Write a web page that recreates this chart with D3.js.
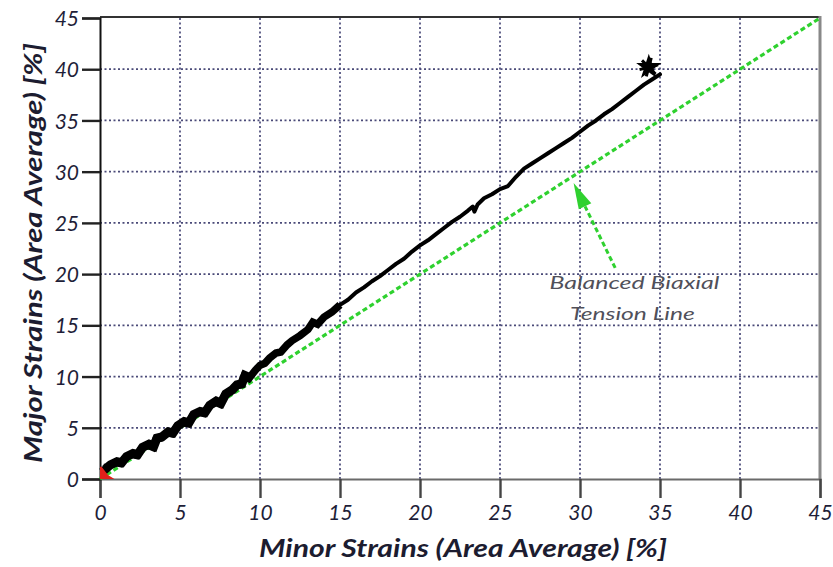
<!DOCTYPE html>
<html>
<head>
<meta charset="utf-8">
<script src="https://cdn.jsdelivr.net/npm/d3@7"></script>
<style>
  html, body { margin: 0; padding: 0; background: #fff; }
  svg { display: block; }
</style>
</head>
<body>
<svg id="chart" width="833" height="567"></svg>
<script>
// ---------- data ----------
const xTicks = [0, 5, 10, 15, 20, 25, 30, 35, 40, 45];
const yTicks = [0, 5, 10, 15, 20, 25, 30, 35, 40, 45];
const xLabel = "Minor Strains (Area Average) [%]";
const yLabel = "Major Strains (Area Average) [%]";

// measured strain path: [minor, major]
const strainPath = [
  [0.1,1.0],[0.3,0.9],[0.6,1.3],[1.0,1.6],[1.3,1.5],[1.6,2.1],[2.0,2.4],[2.3,2.3],
  [2.6,3.0],[3.0,3.3],[3.3,3.1],[3.5,3.9],[3.8,4.0],[4.2,4.5],[4.5,4.4],[4.8,5.1],
  [5.2,5.5],[5.5,5.4],[5.8,6.2],[6.2,6.5],[6.5,6.4],[6.8,7.1],[7.2,7.5],[7.5,7.3],
  [7.8,8.2],[8.2,8.6],[8.5,9.1],[8.8,9.2],[9.0,10.0],[9.3,9.8],[9.7,10.6],[10.0,11.1],
  [10.3,11.3],[10.6,11.8],[11.0,12.3],[11.3,12.4],[11.7,13.1],[12.0,13.5],[12.5,14.0],
  [13.0,14.6],[13.3,15.3],[13.6,15.1],[14.0,15.8],[14.5,16.3],[15.0,17.0],[15.5,17.5],
  [16.0,18.2],[16.5,18.7],[17.0,19.3],[17.5,19.8],[18.0,20.4],[18.5,21.0],[19.0,21.5],
  [19.5,22.2],[20.0,22.8],[20.5,23.3],[21.0,23.9],[21.5,24.5],[22.0,25.1],[22.5,25.6],
  [23.0,26.2],[23.3,26.6],[23.4,26.1],[23.6,26.8],[24.0,27.4],[24.5,27.8],[25.0,28.3],
  [25.5,28.6],[26.0,29.5],[26.5,30.3],[27.0,30.8],[27.5,31.3],[28.0,31.8],[28.5,32.3],
  [29.0,32.8],[29.5,33.3],[30.0,33.9],[30.5,34.5],[31.0,35.0],[31.5,35.6],[32.0,36.1],
  [32.5,36.7],[33.0,37.3],[33.5,37.9],[34.0,38.5],[34.5,39.0],[35.0,39.5]
];
// failure marker
const failurePoint = [34.3, 40.2];
// start region marker (red)
const startMarker = [[0,0],[0.9,0],[0.5,0.4],[0.1,1.2],[0,1.2]];
// balanced biaxial tension line (major = minor)
const biaxialLine = [[0,0],[45,45]];
// annotation
const arrowFrom = [32.2, 20.6];
const arrowTo = [29.6, 28.9];
const annotationLines = ["Balanced Biaxial", "Tension Line"];
const annotationAt = [33.4, 18.5];

// ---------- layout ----------
const svg = d3.select("#chart");
const X0 = 100, X1 = 820, Y0 = 479, Y1 = 18;
const x = d3.scaleLinear().domain([0, 45]).range([X0, X1]);
const y = d3.scaleLinear().domain([0, 45]).range([Y0, Y1]);
const fontFam = "Lato, 'Open Sans', 'DejaVu Sans', sans-serif";

// grid
const grid = svg.append("g");
grid.selectAll("line.gx").data(xTicks.filter(d => d > 0 && d < 45)).enter().append("line")
  .attr("x1", d => x(d)).attr("x2", d => x(d)).attr("y1", Y0).attr("y2", Y1)
  .attr("stroke", "#4a4a78").attr("stroke-width", 1.7).attr("stroke-dasharray", "2,2.5");
grid.selectAll("line.gy").data(yTicks.filter(d => d > 0 && d < 45)).enter().append("line")
  .attr("y1", d => y(d)).attr("y2", d => y(d)).attr("x1", X0).attr("x2", X1)
  .attr("stroke", "#4a4a78").attr("stroke-width", 1.7).attr("stroke-dasharray", "2,2.5");

// frame: top + right
svg.append("line").attr("x1", X0).attr("x2", X1 + 1).attr("y1", Y1 - 1).attr("y2", Y1 - 1)
  .attr("stroke", "#333").attr("stroke-width", 2);
svg.append("line").attr("x1", X1).attr("x2", X1).attr("y1", Y1 - 2).attr("y2", Y0)
  .attr("stroke", "#888").attr("stroke-width", 3);

// axes
const xAxis = d3.axisBottom(x).tickValues(xTicks).tickSize(19).tickPadding(7).tickFormat(d3.format("d"));
const yAxis = d3.axisLeft(y).tickValues(yTicks).tickSize(18).tickPadding(3).tickFormat(d3.format("d"));

const gx = svg.append("g").attr("transform", `translate(0,${Y0})`).call(xAxis);
gx.select(".domain").attr("stroke", "#6a6a6a").attr("stroke-width", 2.2);
gx.selectAll(".tick line").attr("stroke", "#444").attr("stroke-width", 2.4);
gx.selectAll(".tick text").attr("font-family", fontFam).attr("font-style", "italic")
  .attr("font-size", 21).attr("fill", "#1e1e38");

const gy = svg.append("g").attr("transform", `translate(${X0},0)`).call(yAxis);
gy.select(".domain").attr("stroke", "#111").attr("stroke-width", 2);
gy.selectAll(".tick line").attr("stroke", "#222").attr("stroke-width", 2.4);
gy.selectAll(".tick text").attr("font-family", fontFam).attr("font-style", "italic")
  .attr("font-size", 21).attr("fill", "#1e1e38").attr("dy", "0.36em");

// biaxial line
const line = d3.line().x(d => x(d[0])).y(d => y(d[1]));
svg.append("path").datum(biaxialLine).attr("d", line)
  .attr("fill", "none").attr("stroke", "#2fd12f").attr("stroke-width", 3.2)
  .attr("stroke-dasharray", "5,3");

// strain path
svg.append("path").datum(strainPath).attr("d", line)
  .attr("fill", "none").attr("stroke", "#000").attr("stroke-width", 4)
  .attr("stroke-linejoin", "round").attr("stroke-linecap", "round");
// noisy thicker low-strain portion
svg.append("path").datum(strainPath.filter(d => d[0] <= 15)).attr("d", line)
  .attr("fill", "none").attr("stroke", "#000").attr("stroke-width", 7.5)
  .attr("stroke-linejoin", "miter");
svg.append("path").datum(strainPath.filter(d => d[0] <= 9.5)).attr("d", line)
  .attr("fill", "none").attr("stroke", "#000").attr("stroke-width", 9)
  .attr("stroke-linejoin", "miter").attr("transform", "translate(1,-1)");

// red start marker
svg.append("path").datum(startMarker)
  .attr("d", d3.line().x(d => x(d[0])).y(d => y(d[1])).curve(d3.curveLinearClosed))
  .attr("fill", "#e0201a").attr("stroke", "none");

// failure marker
svg.append("path")
  .attr("transform", `translate(${x(failurePoint[0])},${y(failurePoint[1])})`)
  .attr("d", d3.symbol().type(d3.symbolStar).size(200)())
  .attr("fill", "#000");
svg.append("path")
  .attr("transform", `translate(${x(failurePoint[0])},${y(failurePoint[1])}) rotate(15)`)
  .attr("d", d3.symbol().type(d3.symbolAsterisk).size(260)())
  .attr("fill", "none").attr("stroke", "#000").attr("stroke-width", 3);

// arrow
const ax0 = x(arrowFrom[0]), ay0 = y(arrowFrom[1]);
const ax1 = x(arrowTo[0]), ay1 = y(arrowTo[1]);
const ang = Math.atan2(ay1 - ay0, ax1 - ax0);
const headLen = 26, headW = 7;
const bx = ax1 - headLen * Math.cos(ang), by = ay1 - headLen * Math.sin(ang);
svg.append("line").attr("x1", ax0).attr("y1", ay0).attr("x2", bx).attr("y2", by)
  .attr("stroke", "#2fd12f").attr("stroke-width", 3).attr("stroke-dasharray", "5,3");
svg.append("path")
  .attr("d", `M${ax1},${ay1} L${bx + headW * Math.sin(ang)},${by - headW * Math.cos(ang)} L${bx - headW * Math.sin(ang)},${by + headW * Math.cos(ang)} Z`)
  .attr("fill", "#2fd12f");

// annotation text
const ann = svg.append("g");
ann.append("text").attr("x", x(annotationAt[0])).attr("y", y(annotationAt[1]))
  .attr("text-anchor", "middle").attr("font-family", fontFam).attr("font-style", "italic")
  .attr("font-size", 17).attr("fill", "#50505a")
  .attr("textLength", 170).attr("lengthAdjust", "spacingAndGlyphs")
  .text(annotationLines[0]);
ann.append("text").attr("x", x(annotationAt[0]) - 2).attr("y", y(annotationAt[1]) + 31)
  .attr("text-anchor", "middle").attr("font-family", fontFam).attr("font-style", "italic")
  .attr("font-size", 17).attr("fill", "#50505a")
  .attr("textLength", 125).attr("lengthAdjust", "spacingAndGlyphs")
  .text(annotationLines[1]);

// axis titles
svg.append("text").attr("x", 463).attr("y", 557)
  .attr("text-anchor", "middle").attr("font-family", fontFam).attr("font-style", "italic")
  .attr("font-weight", "bold").attr("font-size", 25).attr("fill", "#1c1c30")
  .attr("textLength", 408).attr("lengthAdjust", "spacingAndGlyphs")
  .text(xLabel);
svg.append("text").attr("transform", "translate(42,253) rotate(-90)")
  .attr("text-anchor", "middle").attr("font-family", fontFam).attr("font-style", "italic")
  .attr("font-weight", "bold").attr("font-size", 25).attr("fill", "#1c1c30")
  .attr("textLength", 420).attr("lengthAdjust", "spacingAndGlyphs")
  .text(yLabel);
</script>
</body>
</html>
